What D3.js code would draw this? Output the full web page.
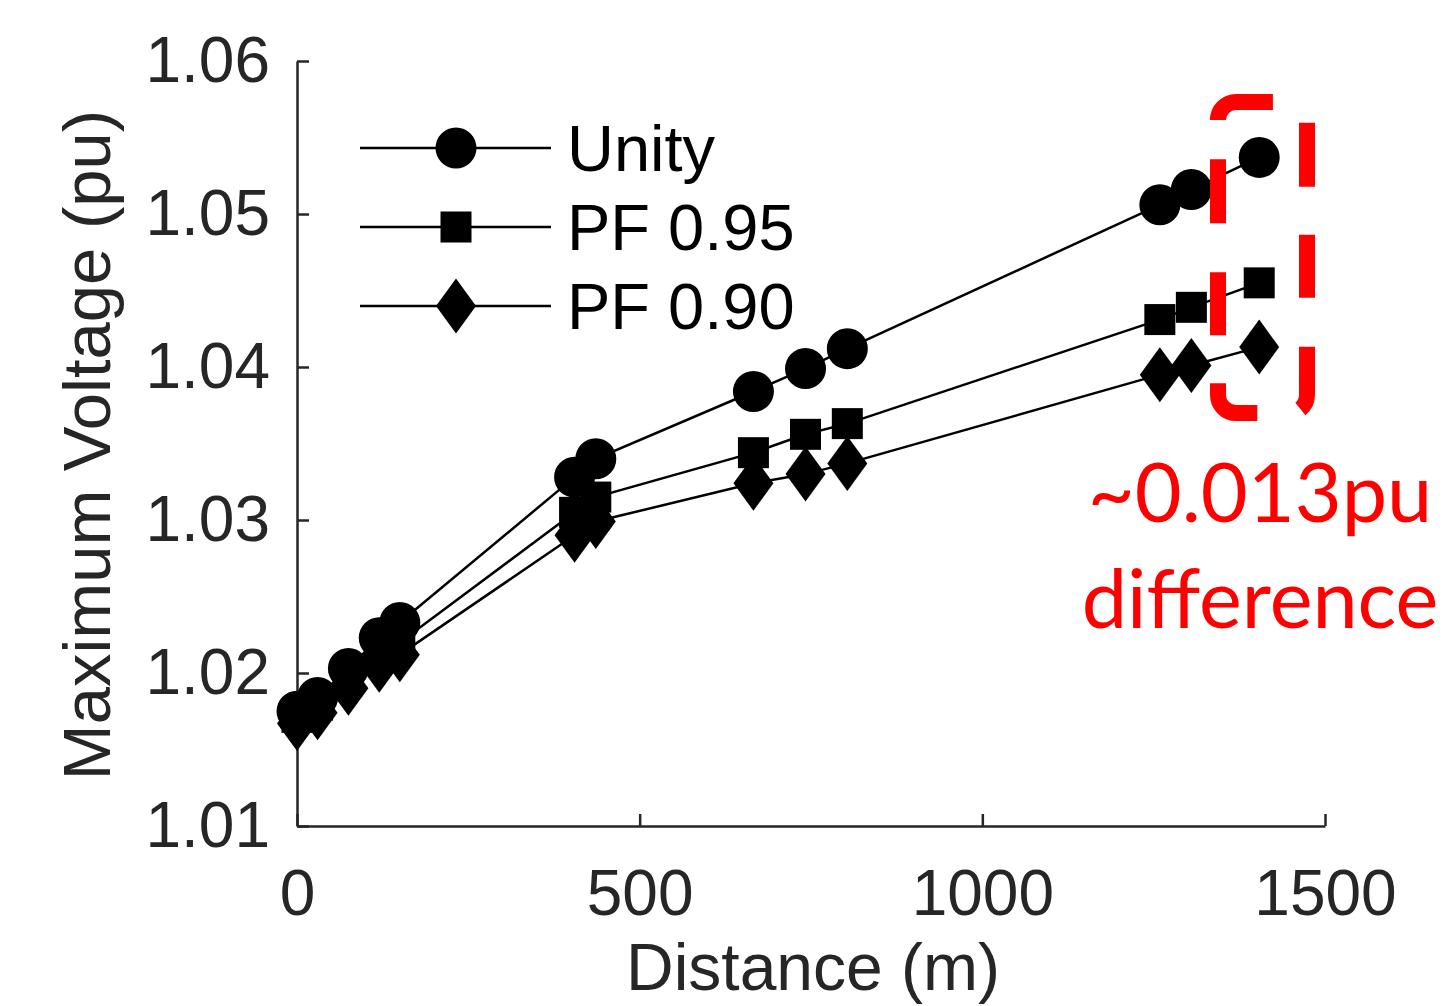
<!DOCTYPE html>
<html>
<head>
<meta charset="utf-8">
<script src="https://cdn.jsdelivr.net/npm/d3@7"></script>
<style>
  html, body { margin: 0; padding: 0; background: #fff; }
  svg { display: block; }
</style>
</head>
<body>
<svg id="chart" width="1451" height="1006"></svg>
<script>
// Distance from the transformer (m) for each monitored bus
const distance = [0, 30, 75, 120, 150, 405, 436, 666, 742, 803, 1259, 1305, 1404];

// Maximum voltage (pu) per power-factor setting
const unity = [1.0175, 1.0184, 1.0203, 1.0223, 1.0233, 1.0328, 1.0340, 1.0384, 1.0399, 1.0412, 1.0506, 1.0516, 1.0537];
const pf095 = [1.0171, 1.0179, 1.0197, 1.0214, 1.0220, 1.0305, 1.0315, 1.0344, 1.0356, 1.0363, 1.0431, 1.0439, 1.0455];
const pf090 = [1.0167, 1.0174, 1.0190, 1.0205, 1.0212, 1.0290, 1.0299, 1.0324, 1.0330, 1.0337, 1.0395, 1.0401, 1.0413];

const seriesNames = ["Unity", "PF 0.95", "PF 0.90"];
const seriesMarkers = ["circle", "square", "diamond"];

const xTicks = [0, 500, 1000, 1500];
const yTicks = [1.01, 1.02, 1.03, 1.04, 1.05, 1.06];

const annotationLines = ["~0.013pu", "difference"];

const svg = d3.select("#chart");
const axisColor = "#262626";
const font = "'Liberation Sans', Arial, Helvetica, sans-serif";

const x = d3.scaleLinear().domain([0, 1500]).range([297, 1325]);
const y = d3.scaleLinear().domain([1.01, 1.06]).range([826, 61]);

// marker path generators, centred on the origin
function markerPath(kind) {
  if (kind === "circle") {
    const r = 20.5;
    return `M${-r},0A${r},${r} 0 1,0 ${r},0A${r},${r} 0 1,0 ${-r},0Z`;
  }
  if (kind === "square") {
    const h = 15.5;
    return `M${-h},${-h}H${h}V${h}H${-h}Z`;
  }
  const w = 20, h = 27.5;
  return `M0,${-h}L${w},0L0,${h}L${-w},0Z`;
}

// axes
const xAxis = d3.axisBottom(x).tickValues(xTicks).tickFormat(d3.format("d"))
  .tickSizeInner(-12).tickSizeOuter(0).tickPadding(44);
const yAxis = d3.axisLeft(y).tickValues(yTicks).tickFormat(d3.format(".2f"))
  .tickSizeInner(-12).tickSizeOuter(0).tickPadding(27);

const gx = svg.append("g").attr("transform", "translate(0,826)").call(xAxis);
const gy = svg.append("g").attr("transform", "translate(297,0)").call(yAxis);

[gx, gy].forEach(g => {
  g.select(".domain").attr("stroke", axisColor).attr("stroke-width", 2.5);
  g.selectAll(".tick line").attr("stroke", axisColor).attr("stroke-width", 2.5);
  g.selectAll(".tick text")
    .attr("fill", axisColor)
    .style("font-family", font)
    .style("font-size", "64px");
});

// axis titles
svg.append("text")
  .attr("x", 813).attr("y", 990)
  .attr("text-anchor", "middle")
  .attr("fill", axisColor)
  .style("font-family", font).style("font-size", "66px")
  .text("Distance (m)");

svg.append("text")
  .attr("transform", "translate(110,445) rotate(-90)")
  .attr("text-anchor", "middle")
  .attr("fill", axisColor)
  .style("font-family", font).style("font-size", "67px")
  .text("Maximum Voltage (pu)");

// series
const allSeries = [unity, pf095, pf090];
const line = d3.line().x((d, i) => x(distance[i])).y(d => y(d));

allSeries.forEach((vals, s) => {
  const g = svg.append("g");
  g.append("path")
    .attr("d", line(vals))
    .attr("fill", "none")
    .attr("stroke", "#000")
    .attr("stroke-width", 2.5);
  g.selectAll("path.m")
    .data(vals)
    .join("path")
    .attr("class", "m")
    .attr("d", markerPath(seriesMarkers[s]))
    .attr("transform", (d, i) => `translate(${x(distance[i])},${y(d)})`)
    .attr("fill", "#000");
});

// legend
const legend = svg.append("g");
seriesNames.forEach((name, s) => {
  const ly = 148 + s * 79;
  legend.append("line")
    .attr("x1", 360).attr("x2", 551).attr("y1", ly).attr("y2", ly)
    .attr("stroke", "#000").attr("stroke-width", 2.5);
  legend.append("path")
    .attr("d", markerPath(seriesMarkers[s]))
    .attr("transform", `translate(456,${ly})`)
    .attr("fill", "#000");
  legend.append("text")
    .attr("x", 567).attr("y", ly + 23)
    .attr("fill", "#000")
    .style("font-family", font).style("font-size", "65px")
    .text(name);
});

// dashed bracket around the last points
const bx0 = 1218, bx1 = 1307, by0 = 102, by1 = 413, br = 18;
const bracket = `M${bx0},117V${by0 + br}A${br},${br} 0 0,1 ${bx0 + br},${by0}`
  + `H${bx1 - br}A${br},${br} 0 0,1 ${bx1},${by0 + br}`
  + `V${by1 - br}A${br},${br} 0 0,1 ${bx1 - br},${by1}`
  + `H${bx0 + br}A${br},${br} 0 0,1 ${bx0},${by1 - br}Z`;
svg.append("path")
  .attr("d", bracket)
  .attr("fill", "none")
  .attr("stroke", "#ff0000")
  .attr("stroke-width", 16)
  .attr("stroke-dasharray", "68 47 64 48 63 49 64 44 61 48 63 49 64 42");

// annotation
annotationLines.forEach((t, i) => {
  svg.append("text")
    .attr("x", 1260).attr("y", 522 + i * 106)
    .attr("text-anchor", "middle")
    .attr("fill", "#ff0000")
    .style("font-family", "Lato, 'Open Sans', sans-serif")
    .style("font-size", "81px")
    .text(t);
});
</script>
</body>
</html>
